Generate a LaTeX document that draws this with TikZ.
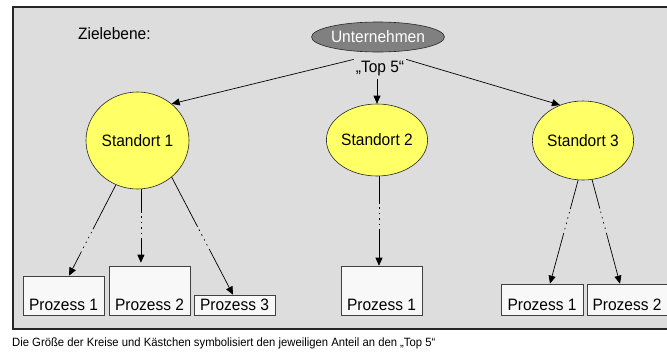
\documentclass[tikz,border=0pt]{standalone}
\usepackage{fontspec}
\setmainfont{Liberation Sans}[FakeStretch=0.94]
\usetikzlibrary{arrows.meta,shapes.geometric,calc}

\definecolor{panelgray}{HTML}{DDDDDD}
\definecolor{siteyellow}{HTML}{FFFF66}
\definecolor{boxfill}{HTML}{F8F8F8}
\definecolor{rootgray}{HTML}{808080}

\tikzset{
  site/.style={ellipse, draw=black!85, line width=0.6pt, fill=siteyellow, inner sep=0pt},
  procbox/.style={rectangle, draw=black!75, line width=0.6pt, fill=boxfill,
    minimum width=81pt, inner xsep=0pt, inner ysep=0pt, text depth=5pt},
  uplink/.style={-{Triangle[length=8pt,width=7pt]}, line width=0.7pt, black},
  downlink/.style={-{Triangle[length=8pt,width=7pt]}, line width=0.7pt, black,
    dash pattern=on #1 off 3pt on 1.5pt off 4pt on 1.5pt off 4pt on 1.5pt off 4pt on 1.5pt off 4pt on 400pt}
}

\begin{document}
\begin{tikzpicture}[x=1pt, y=-1pt, font=\fontsize{16.5}{19}\selectfont]
  \clip (0,0) rectangle (667,351);
  \fill[white] (0,0) rectangle (667,351);

  % panel
  \draw[fill=panelgray, draw=black!85, line width=1.2pt] (13,7) rectangle (690,329);

  % top level
  \node[anchor=base west, inner sep=0pt] (level) at (78,39) {Zielebene:};
  \node[ellipse, draw=black!85, line width=0.6pt, fill=rootgray, text=white,
        minimum width=114pt, minimum height=30pt, inner sep=0pt] (root) at (378,37) {Unternehmen};
  \node[inner sep=2pt] (top5) at (380,69) {„Top 5“};

  % sites
  \node[site, minimum width=103pt, minimum height=97pt] (s1) at (137.5,140.5) {Standort 1};
  \node[site, minimum width=82pt, minimum height=72pt] (s2) at (377,140) {Standort 2};
  \node[site, minimum width=88pt, minimum height=79pt] (s3) at (583,140.5) {Standort 3};

  % processes
  \node[procbox, text height=34pt] (p11) at (63.5,295.5) {Prozess 1};
  \node[procbox, text height=44pt] (p12) at (149.5,290.5) {Prozess 2};
  \node[procbox, text height=15pt] (p13) at (234.5,305) {Prozess 3};
  \node[procbox, text height=44pt] (p21) at (381.5,290.5) {Prozess 1};
  \node[procbox, text height=26pt, minimum width=82pt] (p31) at (542,299.5) {Prozess 1};
  \node[procbox, text height=26pt, minimum width=80pt] (p32) at (627,299.5) {Prozess 2};

  % links from the company level
  \draw[uplink] (top5.north west) -- (s1.47);
  \draw[uplink] (top5.south -| s2.north) -- (s2.north);
  \draw[uplink] (top5.north east) -- (s3.123);

  % links to the processes
  \draw[downlink=50pt] (s1.-116) -- ([xshift=5.5pt]p11.north);
  \draw[downlink=24pt, shorten >=3pt] (s1.-86) -- (s1.-86 |- p12.north);
  \draw[downlink=56pt] (s1.-47) -- ([xshift=-1.5pt]p13.north);
  \draw[downlink=28pt] ([xshift=2pt]s2.south) -- ([xshift=2pt]s2.south |- p21.north);
  \draw[downlink=30pt] (s3.-97) -- ([xshift=8pt]p31.north);
  \draw[downlink=30pt] (s3.-77) -- ([xshift=-7pt]p32.north);

  % caption
  \node[anchor=base west, inner sep=0pt, font=\fontsize{12}{14}\selectfont] (caption) at (12,346)
    {Die Größe der Kreise und Kästchen symbolisiert den jeweiligen Anteil an den „Top 5“};
\end{tikzpicture}
\end{document}
